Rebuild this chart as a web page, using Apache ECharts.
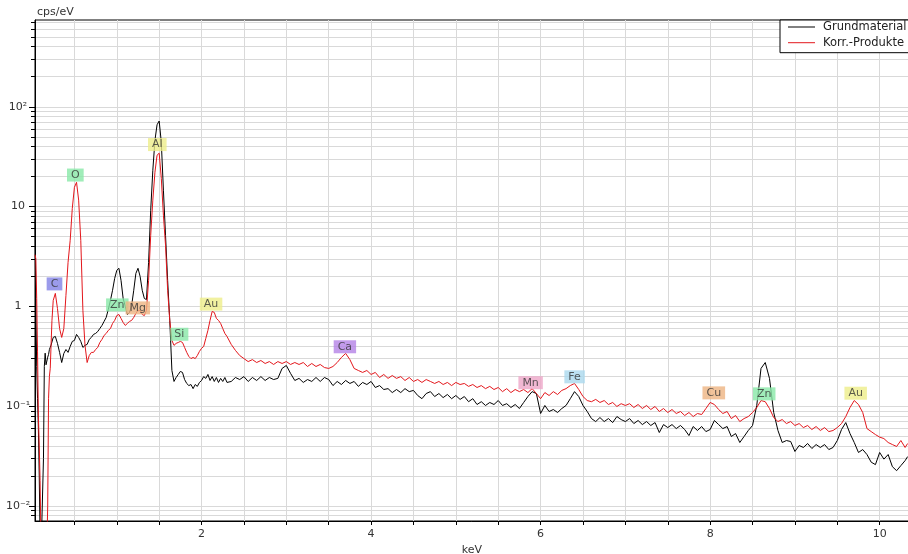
<!DOCTYPE html>
<html><head><meta charset="utf-8">
<script src="https://cdn.jsdelivr.net/npm/echarts@6/dist/echarts.min.js"></script>
<style>html,body{margin:0;padding:0;background:#fff}#c{width:908px;height:554px}</style>
</head><body><div id="c"></div>
<script>
// Energy (keV)
const energy = [
0.035,0.045,0.055,0.065,0.075,0.085,0.095,0.105,0.115,0.125,
0.135,0.145,0.155,0.165,0.175,0.185,0.195,0.205,0.215,0.225,
0.235,
0.25,0.275,0.3,0.325,0.35,0.375,0.4,0.425,0.45,0.475,
0.5,0.525,0.55,0.575,0.6,0.625,0.65,0.675,0.7,0.725,
0.75,0.775,0.8,0.825,0.85,0.875,0.9,0.925,0.95,0.975,
1,1.025,1.05,1.075,1.1,1.125,1.15,1.175,1.2,1.225,
1.25,1.275,1.3,1.325,1.35,1.375,1.4,1.425,1.45,1.475,
1.5,1.525,1.55,1.575,1.6,1.625,1.65,1.675,1.7,1.725,
1.75,1.775,1.8,1.825,1.85,1.875,1.9,1.925,1.95,1.975,
2,2.025,2.05,2.075,2.1,2.125,2.15,2.175,2.2,2.225,
2.25,2.275,2.3,
2.35,2.4,2.45,2.5,2.55,2.6,2.65,2.7,2.75,2.8,
2.85,2.9,2.95,3,3.05,3.1,3.15,3.2,3.25,3.3,
3.35,3.4,3.45,3.5,3.55,3.6,3.65,3.7,3.75,3.8,
3.85,3.9,3.95,4,4.05,4.1,4.15,4.2,4.25,4.3,
4.35,4.4,4.45,4.5,4.55,4.6,4.65,4.7,4.75,4.8,
4.85,4.9,4.95,5,5.05,5.1,5.15,5.2,5.25,5.3,
5.35,5.4,5.45,5.5,5.55,5.6,5.65,5.7,5.75,5.8,
5.85,5.9,5.95,6,6.05,6.1,6.15,6.2,6.25,6.3,
6.35,6.4,6.45,6.5,6.55,6.6,6.65,6.7,6.75,6.8,
6.85,6.9,6.95,7,7.05,7.1,7.15,7.2,7.25,7.3,
7.35,7.4,7.45,7.5,7.55,7.6,7.65,7.7,7.75,7.8,
7.85,7.9,7.95,8,8.05,8.1,8.15,8.2,8.25,8.3,
8.35,8.4,8.45,8.5,8.55,8.6,8.65,8.7,8.75,8.8,
8.85,8.9,8.95,9,9.05,9.1,9.15,9.2,9.25,9.3,
9.35,9.4,9.45,9.5,9.55,9.6,9.65,9.7,9.75,9.8,
9.85,9.9,9.95,10,10.05,10.1,10.15,10.2,10.25,10.3,
10.33
];

// cps/eV, Grundmaterial (black)
const grundmaterial = [
7.6,1.0,0.25,0.12,0.06,0.02,0.005,0.003,0.003,0.003,
0.03,0.25,0.34,0.26,0.25,0.31,0.33,0.37,0.39,0.41,
0.44,
0.489,0.50,0.426,0.346,0.274,0.338,0.37,0.346,0.397,0.446,
0.456,0.524,0.489,0.446,0.388,0.407,0.416,0.467,0.489,0.524,
0.536,0.56,0.601,0.645,0.707,0.776,0.933,1.15,1.45,1.91,
2.30,2.41,1.82,1.20,1.0,0.83,0.87,1.02,1.45,2.14,
2.41,2.0,1.45,1.2,1.17,2.76,9.18,23.1,46.2,66,
72,44.1,14.6,5.15,1.82,0.72,0.228,0.177,0.194,0.208,
0.223,0.218,0.185,0.169,0.161,0.165,0.15,0.165,0.158,0.173,
0.181,0.198,0.19,0.208,0.181,0.198,0.177,0.194,0.173,0.19,
0.177,0.194,0.173,
0.177,0.194,0.185,0.198,0.177,0.194,0.181,0.198,0.181,0.194,
0.185,0.19,0.239,0.256,0.213,0.181,0.19,0.173,0.185,0.177,
0.194,0.177,0.194,0.185,0.161,0.177,0.165,0.181,0.169,0.177,
0.158,0.173,0.165,0.177,0.154,0.161,0.147,0.15,0.137,0.147,
0.137,0.15,0.14,0.144,0.128,0.119,0.134,0.14,0.125,0.134,
0.122,0.131,0.119,0.128,0.117,0.125,0.111,0.119,0.104,0.111,
0.1017,0.109,0.104,0.114,0.1017,0.106,0.0971,0.104,0.0948,0.109,
0.125,0.14,0.134,0.0845,0.1017,0.0885,0.0927,0.0865,0.0948,0.1017,
0.119,0.14,0.125,0.1017,0.0885,0.0752,0.0702,0.077,0.0702,0.0752,
0.0686,0.0788,0.0735,0.0702,0.0752,0.067,0.0719,0.0655,0.0702,0.0641,
0.0686,0.0545,0.0655,0.0611,0.0655,0.0597,0.0641,0.0584,0.0508,0.0626,
0.0571,0.0626,0.0557,0.0584,0.0719,0.0655,0.0597,0.0626,0.0497,0.0532,
0.0433,0.0497,0.0571,0.0641,0.1017,0.239,0.274,0.19,0.0865,0.0571,
0.0433,0.0453,0.0443,0.0352,0.0404,0.0386,0.0423,0.0377,0.0413,0.0386,
0.0413,0.0368,0.0386,0.0453,0.0584,0.0686,0.0532,0.0433,0.0344,0.0368,
0.0328,0.0275,0.026,0.0344,0.0295,0.0328,0.0248,0.0226,0.0254,0.0285,
0.0313
];

// cps/eV, Korr.-Produkte (red)
const korrProdukte = [
3.3,3.0,1.2,0.35,0.08,0.04,0.018,0.005,0.004,0.004,
0.004,0.004,0.004,0.004,0.004,0.01,0.12,0.2,0.24,0.42,
0.72,
1.15,1.35,0.955,0.60,0.489,0.60,1.29,2.76,4.59,9.6,
15.6,17.5,11.6,4.59,0.91,0.407,0.274,0.322,0.346,0.346,
0.37,0.388,0.435,0.467,0.512,0.536,0.575,0.60,0.675,0.724,
0.81,0.83,0.758,0.69,0.645,0.675,0.707,0.724,0.776,0.85,
0.912,0.912,0.83,0.81,0.912,1.82,5.15,11.6,22.1,32.7,
34.3,19.2,8.2,4.09,1.45,0.724,0.456,0.407,0.426,0.435,
0.446,0.435,0.388,0.346,0.315,0.30,0.308,0.30,0.322,0.354,
0.38,0.397,0.478,0.575,0.724,0.89,0.87,0.758,0.724,0.675,
0.60,0.536,0.50,
0.416,0.362,0.322,0.30,0.28,0.293,0.274,0.287,0.268,0.28,
0.262,0.28,0.268,0.28,0.262,0.274,0.262,0.274,0.25,0.268,
0.25,0.262,0.244,0.239,0.25,0.274,0.308,0.338,0.293,0.239,
0.228,0.218,0.228,0.208,0.218,0.194,0.208,0.19,0.203,0.19,
0.198,0.181,0.194,0.177,0.185,0.173,0.185,0.177,0.169,0.177,
0.165,0.173,0.161,0.173,0.165,0.169,0.158,0.165,0.154,0.161,
0.15,0.158,0.147,0.154,0.14,0.15,0.137,0.147,0.14,0.147,
0.137,0.15,0.134,0.119,0.137,0.128,0.14,0.131,0.144,0.15,
0.161,0.169,0.147,0.125,0.114,0.111,0.117,0.109,0.114,0.104,
0.109,0.0994,0.106,0.1017,0.106,0.0971,0.104,0.0948,0.1017,0.0927,
0.0994,0.0885,0.0948,0.0865,0.0927,0.0845,0.0885,0.0807,0.0865,0.0788,
0.0845,0.0826,0.0948,0.109,0.104,0.0927,0.0845,0.0885,0.0752,0.0807,
0.0702,0.0752,0.0788,0.0865,0.0971,0.114,0.111,0.0948,0.077,0.0702,
0.0735,0.067,0.0702,0.0641,0.067,0.0611,0.0641,0.0584,0.0626,0.0571,
0.0611,0.0557,0.0571,0.0611,0.067,0.0788,0.0971,0.114,0.104,0.0865,
0.0597,0.0557,0.052,0.049,0.0474,0.0433,0.0413,0.0395,0.0453,0.0386,
0.0423
];

const seriesNames = ['Grundmaterial', 'Korr.-Produkte'];
const seriesColors = ['#000000', '#e3161b'];

// Element peak labels
const elementNames  = ['C','O','Al','Zn','Mg','Si','Au','Ca','Mn','Fe','Cu','Zn','Au'];
const elementEnergy = [0.265,0.511,1.478,1.006,1.248,1.738,2.112,3.691,5.882,6.401,8.043,8.638,9.717];
const elementLabelY = [1.68,20.7,41.8,1.035,0.966,0.526,1.054,0.394,0.172,0.197,0.136,0.133,0.135];
const elementColors = ['#8282e6','#88e8a8','#eeee8a','#88e8a8','#eeb482','#88e8a8','#eeee8a','#b482e6','#eea6c8','#aad8ee','#eeb482','#88e8a8','#eeee8a'];

// Axes
const xTickValues = [0.5,1,1.5,2,2.5,3,3.5,4,4.5,5,5.5,6,6.5,7,7.5,8,8.5,9,9.5,10];
const xLabelValues = [2,4,6,8,10];
const yTickValues = [0.008,0.009,
  0.01,0.02,0.03,0.04,0.05,0.06,0.07,0.08,0.09,
  0.1,0.2,0.3,0.4,0.5,0.6,0.7,0.8,0.9,
  1,2,3,4,5,6,7,8,9,
  10,20,30,40,50,60,70,80,90,
  100,200,300,400,500,600,700];
const yMajorValues = [0.01,0.1,1,10,100];
const yMajorLabels = ['10\u207B\u00B2','10\u207B\u00B9','1','10','10\u00B2'];

const FONT = 'DejaVu Sans';
const yMin = 0.00708, yMax = 740;

const chart = echarts.init(document.getElementById('c'), null, {renderer: 'canvas'});

function yLabel(v) {
  const i = yMajorValues.findIndex(m => Math.abs(Math.log10(m) - Math.log10(v)) < 1e-6);
  return i >= 0 ? yMajorLabels[i] : '';
}

const option = {
  animation: false,
  backgroundColor: '#ffffff',
  textStyle: {fontFamily: FONT},
  grid: {left: 35, top: 20, right: -1, bottom: 33, show: true, borderColor: '#000', borderWidth: 1,
         backgroundColor: 'transparent', containLabel: false, outerBoundsMode: 'none'},
  legend: {
    data: seriesNames,
    orient: 'vertical', left: 780, top: 20,
    backgroundColor: '#fff', borderColor: '#000', borderWidth: 1, borderRadius: 0,
    padding: [1, 10, 4, 8], itemGap: 3.7, itemWidth: 27, itemHeight: 1, icon: 'rect',
    selectedMode: false,
    textStyle: {fontFamily: FONT, fontSize: 11.5, color: '#222', lineHeight: 12, padding: [0, 0, 0, 3]}
  },
  xAxis: {
    type: 'value', min: 0.035, max: 10.346,
    name: 'keV', nameLocation: 'middle', nameGap: 20,
    nameTextStyle: {fontFamily: FONT, fontSize: 11, color: '#333'},
    axisLine: {show: true, onZero: false, lineStyle: {color: '#000', width: 1}},
    axisTick: {show: true, customValues: xTickValues, length: 4, lineStyle: {color: '#000'}},
    axisLabel: {customValues: xLabelValues, margin: 8, fontFamily: FONT, fontSize: 11, color: '#333'},
    splitLine: {show: true, lineStyle: {color: '#d9d9d9', width: 1}}
  },
  yAxis: [{
    type: 'log', logBase: 10, min: yMin, max: yMax, position: 'left',
    name: 'cps/eV', nameLocation: 'end', nameGap: 2,
    nameTextStyle: {fontFamily: FONT, fontSize: 11, color: '#333', align: 'left', verticalAlign: 'bottom', padding: [0, 0, 0, 2]},
    axisLine: {show: true, onZero: false, lineStyle: {color: '#000', width: 1}},
    axisTick: {show: true, customValues: yTickValues, length: 4, lineStyle: {color: '#000'}},
    axisLabel: {customValues: yMajorValues, formatter: yLabel, align: 'center', margin: 17, fontFamily: FONT, fontSize: 11, color: '#333'},
    splitLine: {show: true, lineStyle: {color: '#d9d9d9', width: 1}}
  }, {
    type: 'log', logBase: 10, min: yMin, max: yMax, position: 'left',
    axisLine: {show: false},
    axisTick: {show: true, customValues: yMajorValues, length: 6, lineStyle: {color: '#000'}},
    axisLabel: {show: false},
    splitLine: {show: false}
  }],
  series: [
    {
      name: seriesNames[0], type: 'line', yAxisIndex: 0,
      data: energy.map((e, i) => [e, grundmaterial[i]]),
      symbol: 'none', showSymbol: false, clip: true, z: 2,
      lineStyle: {color: seriesColors[0], width: 1}, itemStyle: {color: seriesColors[0]}
    },
    {
      name: seriesNames[1], type: 'line', yAxisIndex: 0,
      data: energy.map((e, i) => [e, korrProdukte[i]]),
      symbol: 'none', showSymbol: false, clip: true, z: 3,
      lineStyle: {color: seriesColors[1], width: 1}, itemStyle: {color: seriesColors[1]}
    },
    {
      name: 'Elemente', type: 'scatter', yAxisIndex: 0, silent: true, z: 10,
      symbolSize: 0,
      data: elementNames.map((n, i) => ({
        value: [elementEnergy[i], elementLabelY[i]],
        label: {formatter: n, backgroundColor: elementColors[i]}
      })),
      label: {show: true, position: 'inside', fontFamily: FONT, fontSize: 11, color: '#333', lineHeight: 12, padding: [1, 4, 0, 4]}
    }
  ]
};
chart.setOption(option);
</script>
</body></html>
